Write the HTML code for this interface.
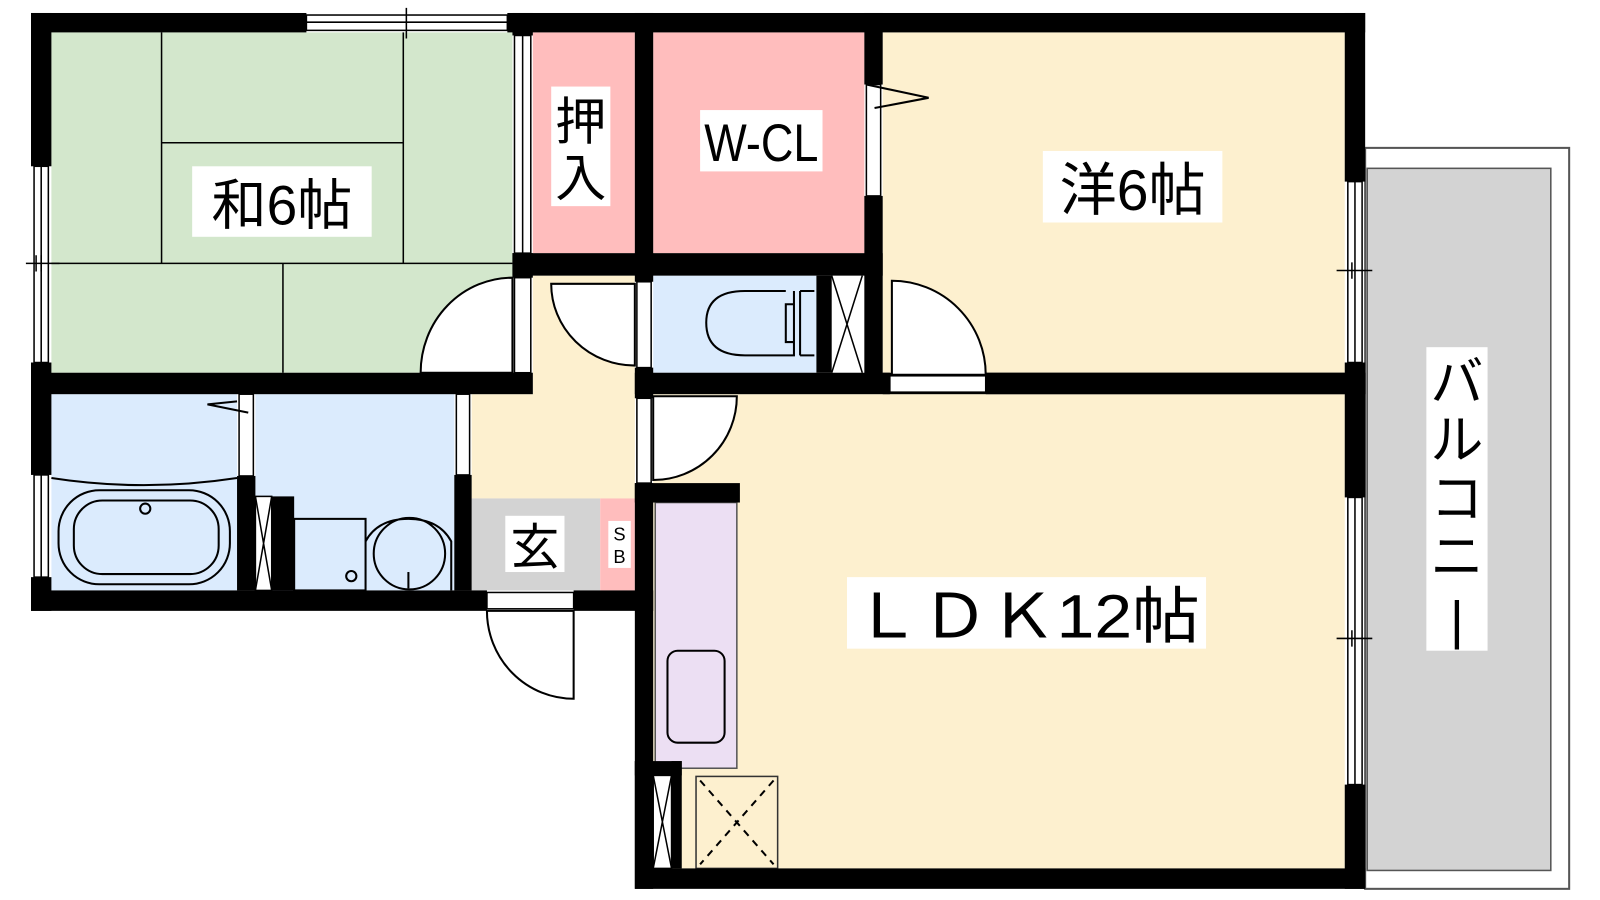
<!DOCTYPE html>
<html><head><meta charset="utf-8"><style>
html,body{margin:0;padding:0;background:#fff;width:1600px;height:900px;overflow:hidden}
svg{display:block}
text{font-family:"Liberation Sans","Noto Sans CJK JP",sans-serif;fill:#000}
</style></head><body>
<svg width="1600" height="900" viewBox="0 0 1600 900" xmlns="http://www.w3.org/2000/svg">
<g transform="matrix(1.02 0 0 1.022 0.4 -0.3)">
<rect x="1338" y="145" width="200" height="725" fill="#fff" stroke="#555" stroke-width="2"/>
<rect x="1340" y="165" width="180" height="687" fill="#d3d3d3" stroke="#555" stroke-width="1.5"/>
<rect x="50" y="32" width="452" height="333" fill="#d3e7cc"/>
<rect x="522" y="32" width="100" height="216" fill="#ffbdbd"/>
<rect x="640" y="32" width="207" height="216" fill="#ffbdbd"/>
<rect x="865" y="32" width="453" height="333" fill="#fdf0cf"/>
<rect x="522" y="270" width="100" height="218" fill="#fdf0cf"/>
<rect x="640" y="270" width="160" height="95" fill="#dbebfd"/>
<rect x="815" y="270" width="32" height="95" fill="#fff"/>
<rect x="50" y="386" width="182" height="192" fill="#dbebfd"/>
<rect x="250" y="386" width="195" height="192" fill="#dbebfd"/>
<rect x="462" y="386" width="160" height="102" fill="#fdf0cf"/>
<rect x="462" y="488" width="126" height="90" fill="#d3d3d3"/>
<rect x="588" y="488" width="34" height="90" fill="#ffbdbd"/>
<rect x="640" y="386" width="678" height="464" fill="#fdf0cf"/>
<rect x="642" y="492" width="80" height="260" fill="#ecdff3" stroke="#555" stroke-width="1.5"/>
<rect x="654" y="637" width="56" height="90" rx="10" fill="none" stroke="#000" stroke-width="2"/>
<rect x="682" y="760" width="80" height="90" fill="#fdf0cf" stroke="#333" stroke-width="1.5"/>
<path d="M686 764 L758 846 M758 764 L686 846" stroke="#000" stroke-width="2" stroke-dasharray="7 6"/>
<g stroke="#000" stroke-width="1.5" fill="none">
<path d="M158 32 V258 M158 140 H395 M395 32 V258 M50 258 H502 M277 258 V365"/>
</g>
<g fill="#000">
<rect x="30" y="13" width="270" height="19"/>
<rect x="497" y="13" width="841" height="19"/>
<rect x="30" y="13" width="20" height="150"/>
<rect x="30" y="355" width="20" height="110"/>
<rect x="30" y="565" width="20" height="33"/>
<rect x="1318" y="13" width="20" height="165"/>
<rect x="1318" y="355" width="20" height="132"/>
<rect x="1318" y="768" width="20" height="102"/>
<rect x="622" y="850" width="716" height="20"/>
<rect x="30" y="578" width="447" height="20"/>
<rect x="562" y="578" width="78" height="20"/>
<rect x="622" y="360" width="18" height="30"/>
<rect x="622" y="473" width="18" height="397"/>
<rect x="622" y="473" width="103" height="19"/>
<rect x="30" y="365" width="492" height="21"/>
<rect x="865" y="365" width="473" height="21"/>
<rect x="622" y="365" width="250" height="21"/>
<rect x="966" y="365" width="372" height="21"/>
<rect x="502" y="13" width="20" height="22"/>
<rect x="502" y="248" width="20" height="24"/>
<rect x="502" y="248" width="363" height="22"/>
<rect x="622" y="13" width="18" height="257"/>
<rect x="622" y="248" width="18" height="28"/>
<rect x="847" y="13" width="18" height="70"/>
<rect x="847" y="192" width="18" height="193"/>
<rect x="800" y="270" width="15" height="95"/>
<rect x="232" y="466" width="18" height="112"/>
<rect x="250" y="486" width="38" height="92"/>
<rect x="445" y="465" width="17" height="113"/>
<rect x="622" y="745" width="18" height="105"/>
<rect x="622" y="745" width="46" height="14"/>
<rect x="658" y="745" width="10" height="105"/>
</g>
<g fill="#fff" stroke="#000" stroke-width="1.5">
<rect x="300" y="15" width="197" height="15"/>
<rect x="33" y="163" width="14" height="192"/>
<rect x="33" y="465" width="14" height="100"/>
<rect x="1321" y="178" width="14" height="177"/>
<rect x="1321" y="487" width="14" height="281"/>
<rect x="504" y="35" width="16" height="213"/>
<rect x="504" y="272" width="16" height="93"/>
<rect x="624" y="276" width="14" height="84"/>
<rect x="624" y="390" width="14" height="83"/>
<rect x="849" y="83" width="14" height="109"/>
<rect x="234" y="386" width="14" height="80"/>
<rect x="447" y="386" width="13" height="79"/>
<rect x="477" y="580" width="85" height="16"/>
<rect x="872" y="368" width="94" height="16"/>
<rect x="250" y="486" width="16" height="92"/>
<rect x="640" y="759" width="18" height="91"/>
</g>
<g stroke="#000" stroke-width="1.5" fill="none">
<path d="M40 163V355 M1328 178V355 M1328 487V768 M40 465V565 M300 22H497 M512 35V248"/>
<path d="M25 258H58 M35 250V266 M40 250V266 M398 8V38 M1310 265H1345 M1310 625H1345 M1325 257V273 M1325 617V633"/>
<path d="M815 270 L845 365 M845 270 L815 365 M250 486 L266 578 M266 486 L250 578 M640 759 L658 850 M658 759 L640 850"/>
</g>
<g fill="#fff" stroke="#000" stroke-width="2">
<path d="M502 272 V365 H412 A90 93 0 0 1 502 272 Z"/>
<path d="M540 278 H622 V358 A82 80 0 0 1 540 278 Z"/>
<path d="M640 388 H722 A82 82 0 0 1 640 470 Z"/>
<path d="M874 275 A92 92 0 0 1 966 367 H874 Z"/>
<path d="M477 598 H562 V684 A85 86 0 0 1 477 598 Z"/>
<path d="M849 83 L910 96 L857 106" fill="none"/>
<path d="M243 404 L203 396 L232 393" fill="none"/>
</g>
<g fill="none" stroke="#000" stroke-width="2">
<path d="M50 468 Q140 482 232 468"/>
<rect x="57" y="480" width="168" height="92" rx="40"/>
<rect x="72" y="490" width="142" height="72" rx="28"/>
<circle cx="142" cy="498" r="5"/>
<rect x="288" y="508" width="70" height="70"/>
<circle cx="344" cy="564" r="5"/>
<path d="M358 530 Q370 508 400 508 Q430 508 442 530 V578 M366 542 A34 34 0 1 0 436 542 A34 34 0 1 0 366 542"/>
<path d="M400 560 V576"/>
<path d="M770 285 H730 Q692 285 692 316 Q692 348 730 348 H778 V285 M778 298 H770 V335 H778 M784 285 V348 M798 285 H784 M798 348 H784"/>
</g>
<rect x="188" y="163" width="176" height="69" fill="#fff"/>
<text x="276" y="220" font-size="54" text-anchor="middle">和6帖</text>
<rect x="540" y="85" width="58" height="117" fill="#fff"/>
<text x="569" y="137" font-size="50" text-anchor="middle">押</text>
<text x="569" y="192" font-size="50" text-anchor="middle">入</text>
<rect x="686" y="108" width="120" height="60" fill="#fff"/>
<text x="746" y="158" font-size="52" text-anchor="middle" textLength="112" lengthAdjust="spacingAndGlyphs">W-CL</text>
<rect x="1022" y="148" width="176" height="70" fill="#fff"/>
<text x="1110" y="206" font-size="56" text-anchor="middle">洋6帖</text>
<rect x="830" y="565" width="352" height="70" fill="#fff"/>
<text x="1006" y="624" font-size="60" text-anchor="middle" textLength="340" lengthAdjust="spacingAndGlyphs">ＬＤＫ12帖</text>
<rect x="495" y="505" width="58" height="55" fill="#fff"/>
<text x="524" y="552" font-size="48" text-anchor="middle">玄</text>
<rect x="596" y="510" width="22" height="46" fill="#fff"/>
<text x="607" y="529" font-size="18" text-anchor="middle">S</text>
<text x="607" y="551" font-size="18" text-anchor="middle">B</text>
<rect x="1398" y="340" width="60" height="297" fill="#fff"/>
<g font-size="52" text-anchor="middle">
<text x="1428" y="392">バ</text>
<text x="1428" y="449">ル</text>
<text x="1428" y="506">コ</text>
<text x="1428" y="563">ニ</text>
<text x="1428" y="625">|</text>
</g>
</g>
</svg>
</body></html>
